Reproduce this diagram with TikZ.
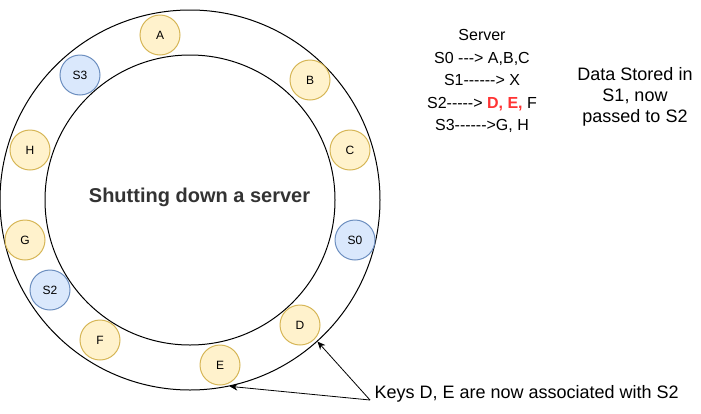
\documentclass[tikz,border=0pt]{standalone}
\usepackage{fontspec}
\newfontfamily\arial{Liberation Sans}
\usetikzlibrary{arrows.meta}
\definecolor{yfill}{HTML}{FFF2CC}
\definecolor{ystroke}{HTML}{D6B656}
\definecolor{bfill}{HTML}{DAE8FC}
\definecolor{bstroke}{HTML}{6C8EBF}
\definecolor{redtxt}{HTML}{FF3333}
\definecolor{titlegray}{HTML}{333333}
\begin{document}
\begin{tikzpicture}[x=1pt,y=-1pt,line width=1pt,
  ring/.style={circle,draw=black,inner sep=0pt},
  keynode/.style={circle,draw=ystroke,fill=yfill,minimum size=40pt,inner sep=0pt,font=\arial\fontsize{12}{14}\selectfont},
  srvnode/.style={circle,draw=bstroke,fill=bfill,minimum size=40pt,inner sep=0pt,font=\arial\fontsize{12}{14}\selectfont},
  txt/.style={inner sep=0pt,align=center},
  arr/.style={draw=black,line width=0.8pt,-{Stealth[length=8pt,width=7pt,inset=2.5pt]}}]
\useasboundingbox (0,0) rectangle (701,413);
\node[ring,minimum size=380pt] (outer) at (190,200) {};
\node[ring,minimum size=290pt] (inner) at (190,200) {};
\node[txt,text=titlegray,font=\arial\bfseries\fontsize{20}{24}\selectfont] (title) at (199.5,197) {Shutting down a server};
\node[keynode] (A) at (160,35) {A};
\node[srvnode] (S3) at (80,75) {S3};
\node[keynode] (B) at (310,80) {B};
\node[keynode] (H) at (30,150) {H};
\node[keynode] (C) at (350,150) {C};
\node[keynode] (G) at (25,240) {G};
\node[srvnode] (S0) at (355,240) {S0};
\node[srvnode] (S2) at (50,290) {S2};
\node[keynode] (F) at (100,340) {F};
\node[keynode] (D) at (300,325) {D};
\node[keynode] (E) at (220,365) {E};
\node[txt,font=\arial\fontsize{16}{22.5}\selectfont] (list) at (482,81)
  {Server\\S0 ---> A,B,C\\S1------> X\\S2-----> \textcolor{redtxt}{\bfseries D, E,} F\\S3------>G, H};
\node[txt,font=\arial\fontsize{18}{21}\selectfont] (data) at (635,97)
  {Data Stored in\\S1, now\\passed to S2};
\node[txt,anchor=west,font=\arial\fontsize{18}{21}\selectfont] (keys) at (374,394)
  {Keys D, E are now associated with S2};
\coordinate (src) at (370,400);
\draw[arr] (src) -- (outer.-48);
\draw[arr] (src) -- (outer.-78);
\end{tikzpicture}
\end{document}
